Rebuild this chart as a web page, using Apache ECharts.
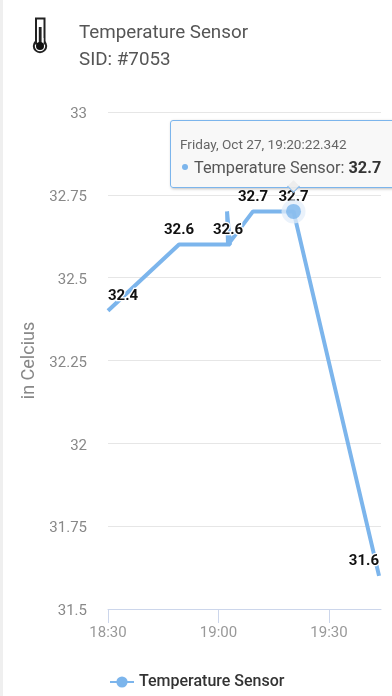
<!DOCTYPE html>
<html><head><meta charset="utf-8">
<style>html,body{margin:0;padding:0;background:#fff;overflow:hidden}#c{width:392px;height:696px;overflow:hidden}</style>
<script src="https://cdn.jsdelivr.net/npm/echarts@6/dist/echarts.min.js"></script>
</head><body><div id="c"></div>
<script>
const day = '2017-10-27T';
const times = ['18:30:00','18:49:17','19:03:07','19:02:19','19:02:35','19:09:22','19:20:22','19:43:35'];
const values = [32.4,32.6,32.6,32.7,32.6,32.7,32.7,31.6];
const labelled = [true,true,false,false,true,true,true,true];
const labelAlign = ['left','center','center','center','center','center','center','right'];
const seriesName = 'Temperature Sensor';
const sensorId = 'SID: #7053';
const yTicks = [31.5,31.75,32,32.25,32.5,32.75,33];
const xTicks = ['18:30','19:00','19:30'];
const yTitle = 'in Celcius';
const activeIndex = 6;
const tipDate = 'Friday, Oct 27, 19:20:22.342';

const BLUE = '#7cb5ec';
const ms = s => new Date(day + s + 'Z').getTime();
const pts = times.map((t,i)=>[ms(t),values[i]]);
const xTickValues = xTicks.map(t=>ms(t+':00'));
const font = 'Roboto, sans-serif';
const chart = echarts.init(document.getElementById('c'),null,{renderer:'canvas'});
chart.setOption({
  animation:false,
  backgroundColor:'#fff',
  title:{left:79,top:20,padding:0,text:seriesName+'\n'+sensorId,
    textStyle:{fontFamily:font,fontSize:18.8,fontWeight:'normal',color:'#555',lineHeight:27}},
  graphic:[
    {type:'rect',left:0,top:0,shape:{width:3,height:696},style:{fill:'#efefef'},silent:true},
    {type:'circle',shape:{cx:40,cy:46,r:6.2},style:{fill:'#fff',stroke:'#222',lineWidth:2}},
    {type:'rect',shape:{x:36,y:18.5,width:8.5,height:25},style:{fill:'#fff',stroke:'#222',lineWidth:2}},
    {type:'rect',shape:{x:37,y:38,width:6.5,height:6},style:{fill:'#fff'}},
    {type:'rect',shape:{x:38.8,y:27,width:2.8,height:18},style:{fill:'#222'}},
    {type:'circle',shape:{cx:40,cy:46,r:4},style:{fill:'#111'}}
  ],
  legend:{show:true,top:669,left:104,itemWidth:24,itemHeight:14,itemGap:0,data:[seriesName],
    textStyle:{fontFamily:font,fontSize:16,fontWeight:500,color:'#333'}},
  grid:{left:108,right:11,top:112,bottom:87},
  tooltip:{trigger:'item',alwaysShowContent:true,showContent:true,transitionDuration:0,
    backgroundColor:'rgba(247,247,247,0.92)',borderColor:BLUE,borderWidth:1.5,borderRadius:3,padding:0,
    extraCssText:'box-shadow:1px 1px 3px rgba(0,0,0,.25);white-space:nowrap;width:232px;height:66px;overflow:visible;',
    position:()=>[170,120],
    formatter:()=>`<div style="position:relative;height:66px;padding-left:9px;box-sizing:border-box">`+
      `<div style="font:13.6px/19px ${font};color:#666;padding-top:14px">${tipDate}</div>`+
      `<div style="font:16.3px/28px ${font};color:#555;white-space:nowrap"><span style="display:inline-block;width:6px;height:6px;border-radius:50%;background:${BLUE};margin:0 6px 3px 2px"></span>${seriesName}: <b style="color:#333">${values[activeIndex]}</b></div>`+
      `<div style="position:absolute;left:118px;top:61px;width:8px;height:8px;transform:rotate(45deg);background:rgba(235,235,235,.9);border-right:1.5px solid ${BLUE};border-bottom:1.5px solid ${BLUE}"></div></div>`},
  xAxis:{type:'value',min:ms('18:30:00'),max:ms('19:44:07'),
    axisLine:{show:true,lineStyle:{color:'#ccd6eb',width:1}},
    axisTick:{show:true,length:14,lineStyle:{color:'#ccd6eb'},customValues:xTickValues},
    splitLine:{show:false},
    axisLabel:{fontFamily:font,fontSize:15,color:'#999',margin:17,customValues:xTickValues,
      formatter:v=>{const d=new Date(v);return String(d.getUTCHours()).padStart(2,'0')+':'+String(d.getUTCMinutes()).padStart(2,'0');}}},
  yAxis:{type:'value',min:yTicks[0],max:yTicks[yTicks.length-1],interval:0.25,
    name:yTitle,nameLocation:'middle',nameGap:69,nameRotate:90,
    nameTextStyle:{fontFamily:font,fontSize:18,color:'#888'},
    axisLine:{show:false},axisTick:{show:false},
    splitLine:{lineStyle:{color:'#e6e6e6',width:1}},
    axisLabel:{fontFamily:font,fontSize:15,color:'#888',margin:21,verticalAlign:'top',lineHeight:5,formatter:v=>String(v)}},
  series:[
    {name:seriesName,type:'line',data:pts.map((p,i)=>({value:p,symbolSize:0,
        label:{show:labelled[i],align:labelAlign[i]}})),
      showSymbol:true,showAllSymbol:true,symbol:'circle',symbolSize:11,clip:false,
      lineStyle:{color:BLUE,width:4},itemStyle:{color:BLUE},
      emphasis:{disabled:true},
      labelLayout:{hideOverlap:false},
      label:{show:true,position:'top',distance:7,fontFamily:font,fontSize:15,fontWeight:'bold',color:'#111',
        textBorderColor:'#fff',textBorderWidth:2.5,formatter:p=>String(p.value[1])},
      z:3},
    {name:'activeHalo',type:'scatter',data:[pts[activeIndex]],symbol:'circle',symbolSize:24,
      itemStyle:{color:'rgba(226,238,250,0.92)'},emphasis:{disabled:true},z:4},
    {name:'activeDot',type:'scatter',data:[pts[activeIndex]],symbol:'circle',symbolSize:15,
      itemStyle:{color:BLUE},emphasis:{disabled:true},z:5}
  ]
});
chart.dispatchAction({type:'showTip',seriesIndex:2,dataIndex:0});
</script></body></html>
